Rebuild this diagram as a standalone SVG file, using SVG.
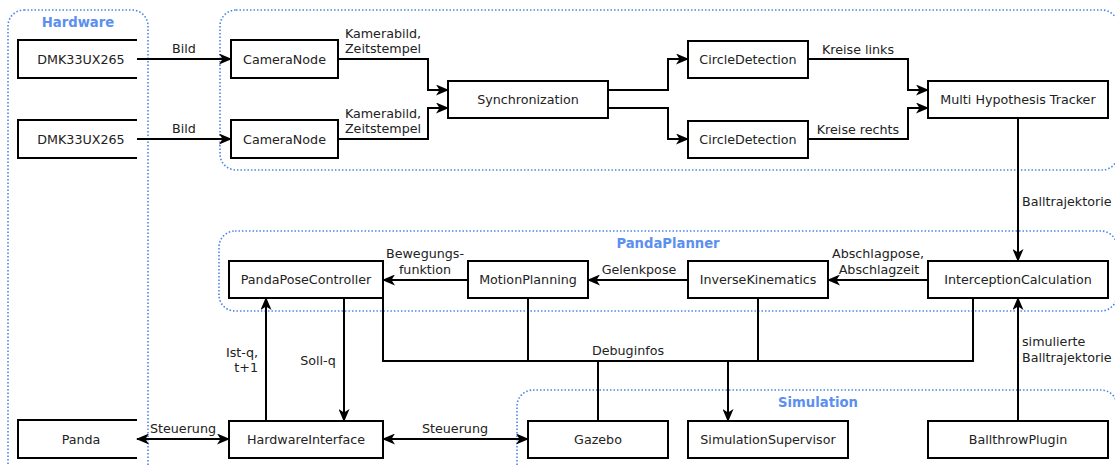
<svg xmlns="http://www.w3.org/2000/svg" width="1115" height="466" viewBox="0 0 1115 466">
<style>
.grp{fill:none;stroke:#4a86e8;stroke-width:1.6;stroke-dasharray:1.5 2}
.gl{font-family:"DejaVu Sans",sans-serif;font-size:13.2px;font-weight:bold;fill:#5b8ff0;text-anchor:middle}
.box{fill:#fff;stroke:#000;stroke-width:2}
.open{fill:none;stroke:#000;stroke-width:2}
.t{font-family:"DejaVu Sans",sans-serif;font-size:12.7px;fill:#222;text-anchor:middle}
.l{font-family:"DejaVu Sans",sans-serif;font-size:12.7px;fill:#222;text-anchor:middle}
.c{fill:none;stroke:#000;stroke-width:2}
</style>
<defs>
<marker id="a" viewBox="0 0 13 11" refX="12" refY="5.5" markerWidth="13" markerHeight="11" markerUnits="userSpaceOnUse" orient="auto-start-reverse">
<path d="M0,0 L13,5.5 L0,11 L3.5,5.5 Z" fill="#000"/>
</marker>
</defs>
<rect width="1115" height="466" fill="#fff"/>
<g id="groups">
<rect class="grp" x="8" y="10" width="140" height="480" rx="16"/>
<rect class="grp" x="220" y="10" width="898" height="160" rx="16"/>
<rect class="grp" x="219" y="231" width="898" height="80" rx="16"/>
<rect class="grp" x="517" y="390" width="600" height="100" rx="16"/>
<text class="gl" x="78" y="26.5">Hardware</text>
<text class="gl" x="668" y="247.5">PandaPlanner</text>
<text class="gl" x="818" y="407">Simulation</text>
</g>
<g id="connectors">
<path class="c" d="M137,59 H231" marker-end="url(#a)"/>
<text class="l" x="184" y="52.5">Bild</text>
<path class="c" d="M137,139 H231" marker-end="url(#a)"/>
<text class="l" x="184" y="132.5">Bild</text>
<path class="c" d="M338,59 H428 V90 H448" marker-end="url(#a)"/>
<text class="l" x="383" y="37.5">Kamerabild,</text>
<text class="l" x="383" y="52.5">Zeitstempel</text>
<path class="c" d="M338,139 H428 V108 H448" marker-end="url(#a)"/>
<text class="l" x="383" y="117.5">Kamerabild,</text>
<text class="l" x="383" y="132.5">Zeitstempel</text>
<path class="c" d="M608,90 H668 V59 H688" marker-end="url(#a)"/>
<path class="c" d="M608,108 H668 V139 H688" marker-end="url(#a)"/>
<path class="c" d="M808,59 H908 V90 H928" marker-end="url(#a)"/>
<text class="l" x="858" y="53.5">Kreise links</text>
<path class="c" d="M808,139 H908 V108 H928" marker-end="url(#a)"/>
<text class="l" x="858" y="133.5">Kreise rechts</text>
<path class="c" d="M1018,118 V261" marker-end="url(#a)"/>
<text class="l" x="1022" y="205.5" style="text-anchor:start">Balltrajektorie</text>
<path class="c" d="M928,280 H828" marker-end="url(#a)"/>
<text class="l" x="878" y="257.5">Abschlagpose,</text>
<text class="l" x="879" y="273.5">Abschlagzeit</text>
<path class="c" d="M688,280 H588" marker-end="url(#a)"/>
<text class="l" x="639" y="273.5">Gelenkpose</text>
<path class="c" d="M468,280 H383" marker-end="url(#a)"/>
<text class="l" x="425" y="257.5">Bewegungs-</text>
<text class="l" x="425" y="273.5">funktion</text>
<path class="c" d="M266,421 V298" marker-end="url(#a)"/>
<text class="l" x="258" y="356.5" style="text-anchor:end">Ist-q,</text>
<text class="l" x="258" y="371.5" style="text-anchor:end">t+1</text>
<path class="c" d="M344,298 V421" marker-end="url(#a)"/>
<text class="l" x="318" y="364.5">Soll-q</text>
<path class="c" d="M137,439 H229" marker-start="url(#a)" marker-end="url(#a)"/>
<text class="l" x="183" y="432.5">Steuerung</text>
<path class="c" d="M383,439 H528" marker-start="url(#a)" marker-end="url(#a)"/>
<text class="l" x="455" y="432.5">Steuerung</text>
<path class="c" d="M383,298 V361 H973 V298"/>
<path class="c" d="M528,298 V361"/>
<path class="c" d="M758,298 V361"/>
<path class="c" d="M598,421 V361"/>
<path class="c" d="M728,361 V421" marker-end="url(#a)"/>
<text class="l" x="628" y="354.5">Debuginfos</text>
<path class="c" d="M1018,421 V298" marker-end="url(#a)"/>
<text class="l" x="1022" y="345.5" style="text-anchor:start">simulierte</text>
<text class="l" x="1022" y="361.5" style="text-anchor:start">Balltrajektorie</text>
</g>
<g id="dmk1"><path class="open" d="M137,40 H18 V78 H137"/><text class="t" x="81" y="63.5">DMK33UX265</text></g>
<g id="dmk2"><path class="open" d="M137,120 H18 V158 H137"/><text class="t" x="81" y="143.5">DMK33UX265</text></g>
<g id="panda"><path class="open" d="M137,420 H18 V458 H137"/><text class="t" x="81" y="443.5">Panda</text></g>
<g id="cameranode1"><rect class="box" x="231" y="40" width="107" height="38"/><text class="t" x="284.5" y="63.5">CameraNode</text></g>
<g id="cameranode2"><rect class="box" x="231" y="120" width="107" height="38"/><text class="t" x="284.5" y="143.5">CameraNode</text></g>
<g id="synchronization"><rect class="box" x="448" y="81" width="160" height="37"/><text class="t" x="528" y="104">Synchronization</text></g>
<g id="circledetection1"><rect class="box" x="688" y="41" width="120" height="37"/><text class="t" x="748" y="64">CircleDetection</text></g>
<g id="circledetection2"><rect class="box" x="688" y="121" width="120" height="37"/><text class="t" x="748" y="144">CircleDetection</text></g>
<g id="mht"><rect class="box" x="928" y="81" width="180" height="37"/><text class="t" x="1018" y="104">Multi Hypothesis Tracker</text></g>
<g id="pandaposecontroller"><rect class="box" x="229" y="261" width="154" height="37"/><text class="t" x="306" y="284">PandaPoseController</text></g>
<g id="motionplanning"><rect class="box" x="468" y="261" width="120" height="37"/><text class="t" x="528" y="284">MotionPlanning</text></g>
<g id="inversekinematics"><rect class="box" x="688" y="261" width="140" height="37"/><text class="t" x="758" y="284">InverseKinematics</text></g>
<g id="interceptioncalculation"><rect class="box" x="928" y="261" width="180" height="37"/><text class="t" x="1018" y="284">InterceptionCalculation</text></g>
<g id="hardwareinterface"><rect class="box" x="229" y="421" width="154" height="37"/><text class="t" x="306" y="444">HardwareInterface</text></g>
<g id="gazebo"><rect class="box" x="528" y="421" width="140" height="37"/><text class="t" x="598" y="444">Gazebo</text></g>
<g id="simulationsupervisor"><rect class="box" x="688" y="421" width="160" height="37"/><text class="t" x="768" y="444">SimulationSupervisor</text></g>
<g id="ballthrowplugin"><rect class="box" x="928" y="421" width="180" height="37"/><text class="t" x="1018" y="444">BallthrowPlugin</text></g>
</svg>
